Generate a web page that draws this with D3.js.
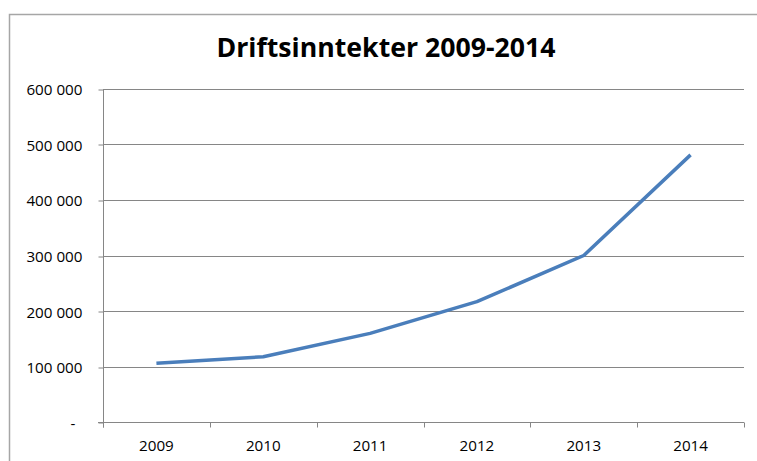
<!DOCTYPE html>
<html>
<head>
<meta charset="utf-8">
<script src="https://cdn.jsdelivr.net/npm/d3@7"></script>
<style>
  html, body { margin: 0; padding: 0; background: #fff; }
  svg { display: block; }
  text { font-family: "Open Sans", "Liberation Sans", sans-serif; fill: #000; }
</style>
</head>
<body>
<script>
const title = "Driftsinntekter 2009-2014";
const years = ["2009", "2010", "2011", "2012", "2013", "2014"];
const revenue = [106000, 118000, 160000, 217000, 300000, 481000];
const yTicks = [0, 100000, 200000, 300000, 400000, 500000, 600000];

const W = 757, H = 461;
const plot = { left: 103, right: 744, top: 88.7, bottom: 422.3 };
const gridColor = "#868686";
const lineColor = "#4A7EBB";

const svg = d3.select("body").append("svg").attr("width", W).attr("height", H);

// outer chart frame
svg.append("rect")
  .attr("x", 9.5).attr("y", 14.5)
  .attr("width", 800).attr("height", 500)
  .attr("fill", "#fff")
  .attr("stroke", "#a6a6a6").attr("stroke-width", 1.5);

const x = d3.scaleBand().domain(years).range([plot.left, plot.right]).padding(0);
const y = d3.scaleLinear().domain([0, 600000]).range([plot.bottom, plot.top]);

const fmt = v => v === 0 ? "-" : d3.format(",")(v).replace(/,/g, " ");

// gridlines
svg.append("g").selectAll("line").data(yTicks.filter(d => d > 0)).join("line")
  .attr("x1", plot.left).attr("x2", plot.right)
  .attr("y1", d => Math.round(y(d)) + 0.5).attr("y2", d => Math.round(y(d)) + 0.5)
  .attr("stroke", gridColor).attr("stroke-width", 1);

// y axis
const yAxis = svg.append("g")
  .attr("transform", `translate(${plot.left + 0.5},0.5)`)
  .call(d3.axisLeft(y).tickValues(yTicks).tickFormat(fmt).tickSize(5).tickPadding(16));
yAxis.select(".domain").attr("stroke", gridColor)
  .attr("d", `M0,${Math.round(plot.top)}V${Math.round(plot.bottom) + 5}`);
yAxis.selectAll(".tick line").attr("stroke", gridColor)
  .attr("transform", d => `translate(0,${Math.round(y(d)) - y(d)})`);
yAxis.selectAll(".tick text")
  .attr("font-size", "15.2px")
  .attr("font-family", "Open Sans, Liberation Sans, sans-serif")
  .attr("fill", "#000")
  .attr("dy", "0.36em")
  .attr("dx", d => d === 0 ? -7 : 0);

// x axis
const xAxis = svg.append("g")
  .attr("transform", `translate(0,${Math.round(plot.bottom) + 0.5})`)
  .call(d3.axisBottom(x).tickSize(0).tickPadding(18));
xAxis.select(".domain").attr("stroke", gridColor)
  .attr("d", `M${plot.left - 5},0H${plot.right}`);
xAxis.selectAll(".tick text")
  .attr("font-size", "15.2px")
  .attr("font-family", "Open Sans, Liberation Sans, sans-serif")
  .attr("fill", "#000");
// category boundary ticks
const bounds = years.map(d => x(d)).concat([x(years[years.length - 1]) + x.bandwidth()]);
xAxis.append("g").selectAll("line").data(bounds).join("line")
  .attr("x1", d => Math.round(d) + 0.5).attr("x2", d => Math.round(d) + 0.5)
  .attr("y1", 0).attr("y2", 5)
  .attr("stroke", gridColor);

// series line
const line = d3.line()
  .x((d, i) => x(years[i]) + x.bandwidth() / 2)
  .y(d => y(d));
svg.append("path")
  .datum(revenue)
  .attr("d", line)
  .attr("fill", "none")
  .attr("stroke", lineColor)
  .attr("stroke-width", 3.5)
  .attr("stroke-linejoin", "round")
  .attr("stroke-linecap", "butt");

// title
const t = svg.append("text")
  .attr("x", 386).attr("y", 56.5)
  .attr("text-anchor", "middle")
  .attr("font-weight", "bold")
  .attr("font-size", "26px")
  .text(title);
const tw = t.node().getComputedTextLength();
if (tw > 0) t.attr("font-size", (26 * 339 / tw).toFixed(2) + "px");
</script>
</body>
</html>
